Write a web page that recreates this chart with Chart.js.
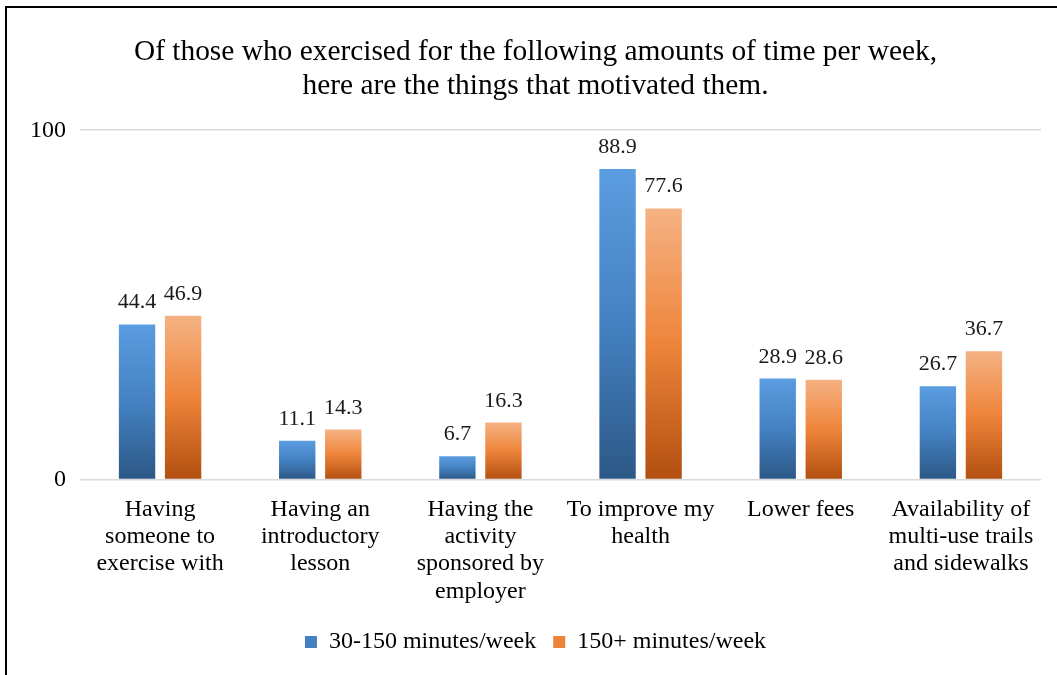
<!DOCTYPE html>
<html>
<head>
<meta charset="utf-8">
<script src="https://cdn.jsdelivr.net/npm/chart.js@4.4.1/dist/chart.umd.min.js"></script>
<style>
  html, body { margin: 0; padding: 0; background: #fff; }
  #wrap { position: relative; width: 1057px; height: 675px; overflow: hidden; }
  #frame { position: absolute; left: 5px; top: 6px; width: 1100px; height: 700px;
           border-top: 2px solid #000; border-left: 2px solid #000; }
  canvas { position: absolute; left: 0; top: 0; }
</style>
</head>
<body>
<div id="wrap">
  <div id="frame"></div>
  <canvas id="chart" width="1057" height="675"></canvas>
</div>
<script>
// ── Data ─────────────────────────────────────────────────────────────────────
const categories = [
  ['Having', 'someone to', 'exercise with'],
  ['Having an', 'introductory', 'lesson'],
  ['Having the', 'activity', 'sponsored by', 'employer'],
  ['To improve my', 'health'],
  ['Lower fees'],
  ['Availability of', 'multi-use trails', 'and sidewalks'],
]
const shortWeek = [44.4, 11.1, 6.7, 88.9, 28.9, 26.7]
const longWeek  = [46.9, 14.3, 16.3, 77.6, 28.6, 36.7]
const seriesNames = ['30-150 minutes/week', '150+ minutes/week']
const yTicks = [0, 100]

const FONT = "'Liberation Serif', 'Times New Roman', serif"

// per-bar vertical gradient, top light → bottom dark
function barGradient(stops) {
    return (c) => {
        const chart = c.chart
        const y = chart.scales.y
        if (!y || c.parsed === undefined || c.parsed.y === undefined) return stops[1]
        const top = y.getPixelForValue(c.parsed.y)
        const bottom = y.getPixelForValue(0)
        const g = chart.ctx.createLinearGradient(0, top, 0, bottom)
        g.addColorStop(0, stops[0])
        g.addColorStop(0.5, stops[1])
        g.addColorStop(1, stops[2])
        return g
    }
}
const blueStops   = ['#5a9de0', '#4481c2', '#2c5886']
const orangeStops = ['#f5b283', '#ee843a', '#b24f10']

// ── value labels above bars ─────────────────────────────────────────────────
const valueLabels = {
    id: 'valueLabels',
    afterDatasetsDraw(chart) {
        const ctx = chart.ctx
        ctx.save()
        ctx.font = '22px ' + FONT
        ctx.fillStyle = '#1a1a1a'
        ctx.textAlign = 'center'
        ctx.textBaseline = 'alphabetic'
        chart.data.datasets.forEach((ds, i) => {
            chart.getDatasetMeta(i).data.forEach((bar, j) => {
                ctx.fillText(ds.data[j].toFixed(1), bar.x, bar.y - 16)
            })
        })
        ctx.restore()
    },
}

new Chart(document.getElementById('chart'), {
    type: 'bar',
    data: {
        labels: categories,
        datasets: [
            { label: seriesNames[0], data: shortWeek, backgroundColor: barGradient(blueStops) },
            { label: seriesNames[1], data: longWeek, backgroundColor: barGradient(orangeStops) },
        ],
    },
    options: {
        responsive: false,
        animation: false,
        layout: { padding: { left: 30, right: 16, top: 21, bottom: 11 } },
        categoryPercentage: 0.575,
        barPercentage: 0.79,
        plugins: {
            title: {
                display: true,
                text: ['Of those who exercised for the following amounts of time per week,',
                       'here are the things that motivated them.'],
                color: '#000',
                font: { family: FONT, size: 29.4, weight: 'normal', lineHeight: 1.16 },
                padding: { top: 14, bottom: 27 },
            },
            legend: {
                position: 'bottom',
                labels: {
                    color: '#000',
                    font: { family: FONT, size: 24 },
                    boxWidth: 12,
                    boxHeight: 12,
                    padding: 17,
                    generateLabels: (chart) => chart.data.datasets.map((ds, i) => ({
                        text: ds.label,
                        fillStyle: i === 0 ? blueStops[1] : orangeStops[1],
                        strokeStyle: 'transparent',
                        lineWidth: 0,
                        datasetIndex: i,
                    })),
                },
            },
            tooltip: { enabled: false },
        },
        scales: {
            x: {
                grid: { display: false },
                border: { display: false },
                ticks: {
                    color: '#000',
                    font: { family: FONT, size: 24, lineHeight: 1.14 },
                    maxRotation: 0,
                    padding: 8,
                },
            },
            y: {
                min: yTicks[0],
                max: yTicks[1],
                afterBuildTicks: (s) => { s.ticks = yTicks.map(v => ({ value: v })) },
                // keep the axis box fixed so the plot starts where the original does
                afterFit: (s) => { s.width = 50 },
                grid: { color: '#d9d9d9', drawTicks: false, lineWidth: 1.5 },
                border: { display: false },
                ticks: {
                    color: '#000',
                    font: { family: FONT, size: 24 },
                    padding: 14,
                },
            },
        },
    },
    plugins: [valueLabels],
})
</script>
</body>
</html>
